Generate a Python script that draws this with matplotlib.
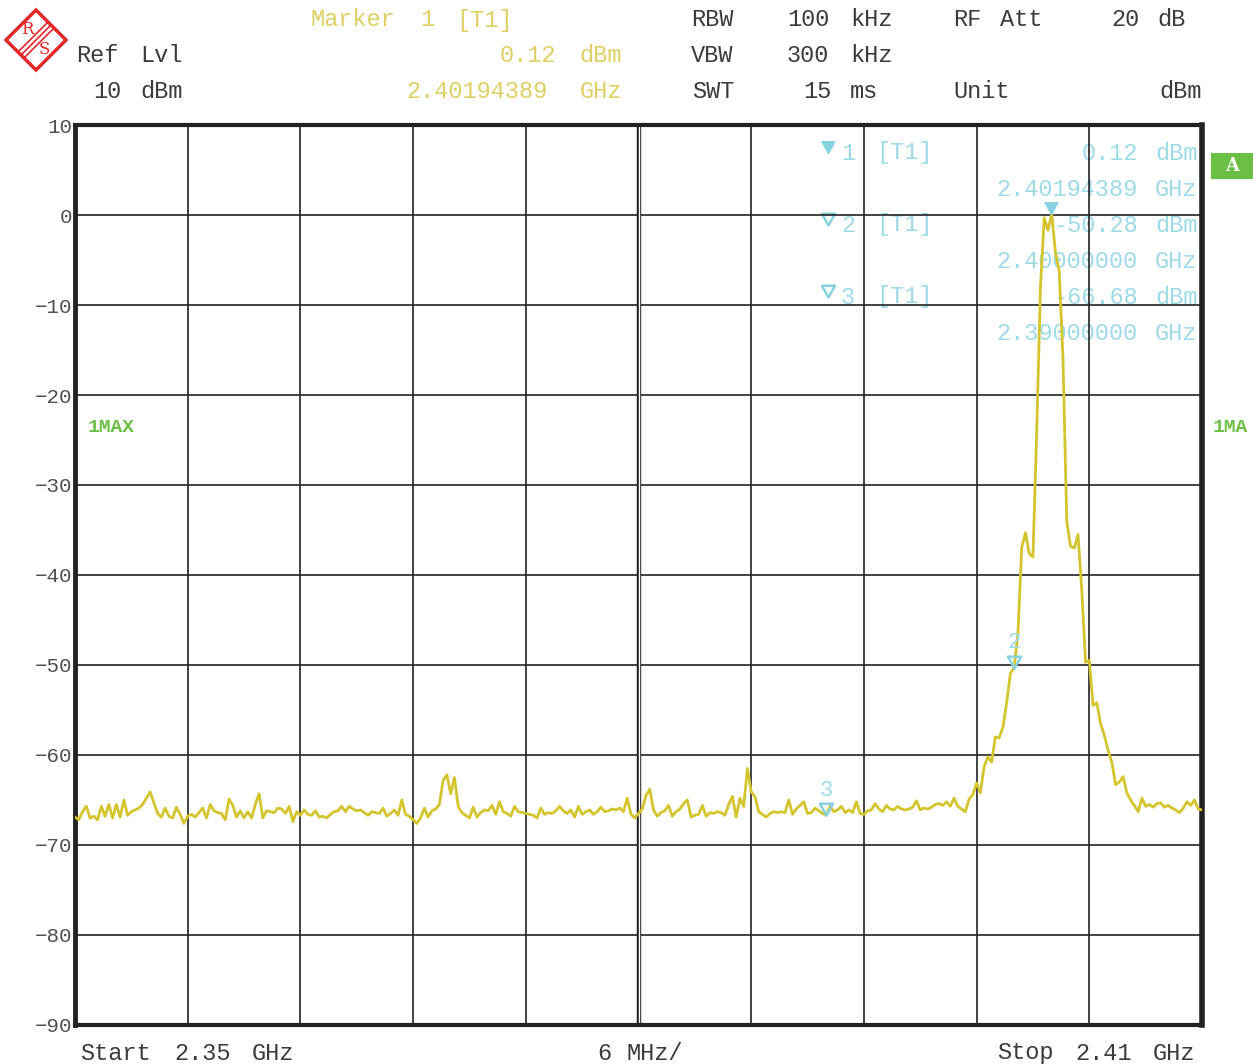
import numpy as np
import matplotlib
matplotlib.use('Agg')
import matplotlib.pyplot as plt
from matplotlib.path import Path
from matplotlib.patches import Polygon, Rectangle

# sweep settings
start_mhz = 2350.0
stop_mhz = 2410.0

# trace 1 (max hold), dBm, 0.2 MHz per point
level_dbm = [
    -66.9, -67.2, -66.3, -65.7, -67.0, -66.8, -67.2, -65.7, -66.8, -65.5,
    -67.0, -65.5, -66.9, -65.0, -66.7, -66.3, -66.1, -65.9, -65.5, -64.8,
    -64.1, -65.3, -66.5, -66.9, -65.9, -66.8, -67.0, -65.8, -66.6, -67.6,
    -66.8, -66.6, -66.9, -66.4, -65.9, -67.0, -65.5, -66.2, -66.4, -66.5,
    -67.2, -64.9, -65.6, -66.9, -66.2, -67.0, -66.3, -67.0, -65.5, -64.3,
    -67.0, -66.2, -66.3, -66.4, -65.9, -66.0, -66.5, -65.7, -67.4, -66.3,
    -66.7, -66.1, -66.6, -66.7, -66.2, -66.9, -66.8, -67.0, -66.6, -66.3,
    -66.2, -65.7, -66.3, -65.7, -66.0, -66.2, -66.1, -66.4, -66.7, -66.3,
    -66.4, -66.5, -65.9, -66.8, -66.5, -66.1, -66.7, -65.0, -66.6, -66.8,
    -67.2, -67.6, -67.0, -65.9, -66.9, -66.2, -66.0, -65.5, -62.8, -62.2,
    -64.3, -62.5, -65.7, -66.4, -66.7, -67.0, -65.8, -66.9, -66.4, -66.1,
    -66.2, -65.6, -66.6, -65.2, -66.3, -66.5, -66.8, -65.7, -66.3, -66.4,
    -66.5, -66.6, -66.7, -67.0, -65.9, -66.6, -66.4, -66.5, -66.2, -65.7,
    -66.2, -66.5, -66.1, -66.9, -65.7, -66.6, -66.3, -66.1, -66.6, -66.3,
    -65.8, -66.3, -66.2, -66.0, -66.1, -65.9, -66.3, -64.8, -66.6, -67.0,
    -66.5, -66.0, -64.5, -63.8, -66.1, -66.8, -66.4, -66.2, -65.6, -66.8,
    -66.3, -66.0, -65.4, -65.0, -66.9, -66.7, -66.6, -65.6, -66.8, -66.4,
    -66.5, -66.3, -66.4, -66.7, -65.5, -64.6, -66.9, -64.8, -65.7, -61.5,
    -64.1, -64.6, -66.3, -66.6, -66.9, -66.5, -66.3, -66.4, -66.3, -66.4,
    -65.0, -66.6, -66.0, -65.6, -65.2, -66.5, -66.4, -65.9, -66.2, -66.5,
    -66.7, -65.7, -66.3, -66.1, -65.7, -66.4, -66.1, -66.4, -65.2, -66.5,
    -66.6, -66.2, -66.1, -65.4, -66.0, -66.3, -65.6, -66.0, -66.1, -65.7,
    -66.0, -66.1, -66.0, -65.8, -65.1, -66.1, -65.9, -66.0, -65.8, -65.5,
    -65.4, -65.6, -65.2, -65.7, -64.8, -65.7, -66.0, -66.3, -64.9, -64.4,
    -63.1, -64.2, -61.3, -60.2, -60.8, -58.0, -58.1, -56.9, -54.2, -50.9,
    -50.3, -46.5, -37.0, -35.3, -37.6, -38.0, -24.0, -8.0, -0.3, -1.7,
    0.12, -4.2, -6.3, -16.0, -34.0, -36.8, -37.0, -35.5, -41.7, -49.7,
    -49.5, -54.5, -54.2, -56.5, -57.8, -59.5, -60.8, -63.3, -63.0, -62.4,
    -64.2, -65.0, -65.6, -66.3, -64.8, -65.7, -65.5, -65.8, -65.4, -65.3,
    -65.8, -65.6, -65.9, -66.1, -66.4, -65.9, -65.2, -65.6, -65.0, -66.0, -66.1,
]

# markers
marker_mhz = [2401.94389, 2400.0, 2390.0]
marker_dbm = [0.12, -50.28, -66.68]
marker_freq_txt = ['2.40194389', '2.40000000', '2.39000000']
marker_lvl_txt = ['0.12', '-50.28', '-66.68']
y_ticks = [10, 0, -10, -20, -30, -40, -50, -60, -70, -80, -90]

TRACE = '#d4c52e'
MARK = '#86d2df'
MARK_TXT = '#9fdbe6'
HDR_Y = '#ddd064'
GREY = '#3c3c3c'
GREEN = '#6cbf45'
RED = '#e8262a'

plt.rcParams['font.family'] = ['Liberation Mono', 'DejaVu Sans Mono']

W, H = 1253, 1064
fig = plt.figure(figsize=(W / 100, H / 100), dpi=100)
fig.patch.set_facecolor('white')

# overlay in screen pixels for all the instrument annotations
over = fig.add_axes([0, 0, 1, 1], zorder=0)
over.set_xlim(0, W)
over.set_ylim(H, 0)
over.axis('off')

ax = fig.add_axes([75 / W, (H - 1025) / H, (1202 - 75) / W, 900 / H], zorder=1)
ax.patch.set_alpha(0)

freq = np.linspace(start_mhz, stop_mhz, len(level_dbm))
ax.plot(freq, level_dbm, color=TRACE, lw=2.0, zorder=3)

ax.set_xlim(start_mhz, stop_mhz)
ax.set_ylim(-90, 10)
ax.set_xticks(np.linspace(start_mhz, stop_mhz, 11))
ax.set_yticks(y_ticks)
ax.set_yticklabels([str(v).replace('-', '\u2212') for v in y_ticks])
ax.grid(True, color='#222222', lw=1.2)
ax.tick_params(length=0, labelbottom=False, labelsize=15, labelcolor='#505050', pad=2)
# center division is drawn as a double line
mid = (start_mhz + stop_mhz) / 2
ax.axvline(mid, color='#222222', lw=3.2, zorder=2)
ax.axvline(mid, color='white', lw=1.0, zorder=2)
for side, w in [('left', 3.5), ('right', 4.0), ('top', 3.0), ('bottom', 3.0)]:
    ax.spines[side].set_linewidth(w)
    ax.spines[side].set_color('#222222')

# marker symbols: downward triangle whose tip sits on the trace
tri = Path([(-0.55, 1.0), (0.55, 1.0), (0.0, 0.0), (-0.55, 1.0)],
           [Path.MOVETO, Path.LINETO, Path.LINETO, Path.CLOSEPOLY])
ax.plot(marker_mhz[0], marker_dbm[0], marker=tri, ms=17, color=MARK, mec=MARK, zorder=5, clip_on=False)
for k in (1, 2):
    ax.plot(marker_mhz[k], marker_dbm[k], marker=tri, ms=17, mfc='none', mec=MARK, mew=1.8,
            zorder=5, clip_on=False)
    ax.annotate(str(k + 1), (marker_mhz[k], marker_dbm[k]), xytext=(0, 18),
                textcoords='offset points', ha='center', va='center', color=MARK_TXT, fontsize=16)

# header
hdr = [
    (310, 20, 'Marker', HDR_Y), (420, 20, '1', HDR_Y), (456, 20, '[T1]', HDR_Y),
    (691, 20, 'RBW', GREY), (787, 20, '100', GREY), (850, 20, 'kHz', GREY),
    (953, 20, 'RF', GREY), (1000, 20, 'Att', GREY), (1111, 20, '20', GREY), (1157, 20, 'dB', GREY),
    (76, 56, 'Ref', GREY), (140, 56, 'Lvl', GREY), (500, 56, '0.12', HDR_Y), (579, 56, 'dBm', HDR_Y),
    (691, 56, 'VBW', GREY), (787, 56, '300', GREY), (850, 56, 'kHz', GREY),
    (93, 92, '10', GREY), (140, 92, 'dBm', GREY), (406, 92, '2.40194389', HDR_Y), (580, 92, 'GHz', HDR_Y),
    (692, 92, 'SWT', GREY), (803, 92, '15', GREY), (850, 92, 'ms', GREY),
    (953, 92, 'Unit', GREY), (1159, 92, 'dBm', GREY),
    (80, 1053, 'Start', GREY), (174, 1053, '2.35', GREY), (252, 1053, 'GHz', GREY),
    (597, 1053, '6', GREY), (626, 1053, 'MHz/', GREY),
    (997, 1053, 'Stop', GREY), (1075, 1053, '2.41', GREY), (1153, 1053, 'GHz', GREY),
]
for x, y, s, c in hdr:
    over.text(x, y, s, color=c, fontsize=17, ha='left', va='center')

# marker table inside the grid
for k in range(3):
    y0 = 153 + 72 * k
    if k == 0:
        over.plot(828, y0, marker=tri, ms=17, color=MARK, mec=MARK)
    else:
        over.plot(828, y0, marker=tri, ms=17, mfc='none', mec=MARK, mew=1.8)
    over.text(841, y0, str(k + 1), color=MARK_TXT, fontsize=17, va='center')
    over.text(876, y0, '[T1]', color=MARK_TXT, fontsize=17, va='center')
    over.text(1138, y0, marker_lvl_txt[k], color=MARK_TXT, fontsize=17, va='center', ha='right')
    over.text(1155, y0, 'dBm', color=MARK_TXT, fontsize=17, va='center')
    over.text(1138, y0 + 36, marker_freq_txt[k], color=MARK_TXT, fontsize=17, va='center', ha='right')
    over.text(1155, y0 + 36, 'GHz', color=MARK_TXT, fontsize=17, va='center')

# trace labels
over.text(88, 428, '1MAX', color=GREEN, fontsize=14, fontweight='bold', va='center')
over.text(1213, 428, '1MA', color=GREEN, fontsize=14, fontweight='bold', va='center')
over.add_patch(Rectangle((1211, 153), 42, 26, color=GREEN, lw=0))
over.text(1232, 166, 'A', color='white', fontsize=13, fontweight='bold', ha='center', va='center',
          family='DejaVu Serif')

# R&S logo
over.add_patch(Polygon([(36, 10), (66, 40), (36, 70), (6, 40)], closed=True, fill=False, ec=RED, lw=2.5))
for d in (-3, 0, 3):
    over.plot([51 + d, 21 + d], [25 + d, 55 + d], color=RED, lw=1.2)
over.text(27, 30, 'R', color=RED, fontsize=12, ha='center', va='center', family='DejaVu Serif')
over.text(44, 50, 'S', color=RED, fontsize=12, ha='center', va='center', family='DejaVu Serif')

fig.savefig('out.png', dpi=100, facecolor='white')
